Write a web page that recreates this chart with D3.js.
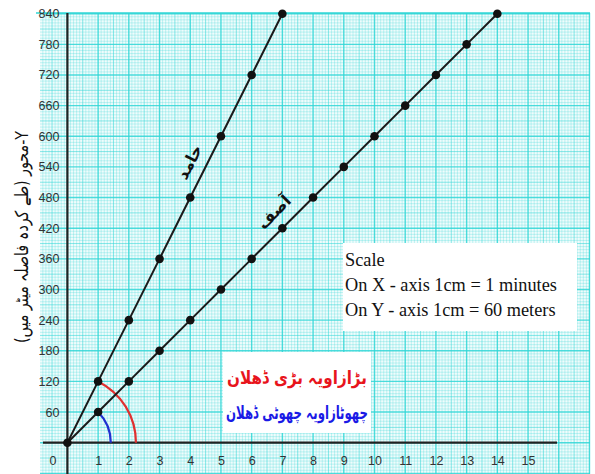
<!DOCTYPE html>
<html><head><meta charset="utf-8">
<script src="https://cdn.jsdelivr.net/npm/d3@7"></script>
<style>
html,body{margin:0;padding:0;background:#fff;}
svg{display:block;}
</style></head>
<body>
<script>
// ---- data ----
const hamidX = [0,1,2,3,4,5,6,7];
const hamidY = [0,120,240,360,480,600,720,840];
const asifX  = [0,1,2,3,4,5,6,7,8,9,10,11,12,13,14];
const asifY  = [0,60,120,180,240,300,360,420,480,540,600,660,720,780,840];
const xTicks = [0,1,2,3,4,5,6,7,8,9,10,11,12,13,14,15];
const yTicks = [60,120,180,240,300,360,420,480,540,600,660,720,780,840];
const seriesNames = ["حامد","آصف"];
const yTitle = "Y-محور (طے کردہ فاصلہ میٹر میں)";
const legendRed = "بڑازاویہ بڑی ڈھلان";
const legendBlue = "چھوٹازاویہ چھوٹی ڈھلان";
const scaleLines = ["Scale","On X - axis 1cm = 1 minutes","On Y - axis 1cm = 60 meters"];

const W=595,H=474;
const svg=d3.select("body").append("svg").attr("width",W).attr("height",H);
const x=d3.scaleLinear().domain([0,16]).range([67.4,67.4+16*30.71]);
const y=d3.scaleLinear().domain([0,840]).range([442.7,13.7]);

// graph paper
const gx0=40,gx1=590,gy0=13,gy1=474;
svg.append("rect").attr("x",gx0).attr("y",gy0).attr("width",gx1-gx0).attr("height",gy1-gy0).attr("fill","#effcfc");
const grid=svg.append("g");
const xmin=x.invert(gx0),xmax=x.invert(gx1),ymin=y.invert(gy1),ymax=y.invert(gy0);
for(let i=Math.ceil(xmin*10);i<=Math.floor(xmax*10);i++){
  const m=((i%10)+10)%10;
  const op = m===0?0.85:(m===5?0.55:0.25);
  const sw = m===0?1.4:1;
  grid.append("line").attr("x1",x(i/10)).attr("x2",x(i/10)).attr("y1",gy0).attr("y2",gy1)
    .attr("stroke","#2fd6d6").attr("stroke-opacity",op).attr("stroke-width",sw);
}
for(let j=Math.ceil(ymin/6);j<=Math.floor(ymax/6);j++){
  const m=((j%10)+10)%10;
  const op = m===0?0.85:(m===5?0.55:0.25);
  const sw = m===0?1.4:1;
  grid.append("line").attr("y1",y(j*6)).attr("y2",y(j*6)).attr("x1",gx0).attr("x2",gx1)
    .attr("stroke","#2fd6d6").attr("stroke-opacity",op).attr("stroke-width",sw);
}
svg.append("line").attr("x1",36).attr("x2",gx1).attr("y1",gy0).attr("y2",gy0).attr("stroke","#2fd6d6").attr("stroke-width",1.5);

// axes lines
svg.append("line").attr("x1",x(0)).attr("x2",x(0)).attr("y1",gy0).attr("y2",gy1).attr("stroke","#222").attr("stroke-width",2.2);
svg.append("line").attr("x1",43).attr("x2",557).attr("y1",y(0)).attr("y2",y(0)).attr("stroke","#222").attr("stroke-width",2.2);

// tick labels via d3 axes
const xa=svg.append("g").attr("transform",`translate(0,${y(0)+10})`)
  .call(d3.axisBottom(x).tickValues(xTicks).tickSize(0).tickFormat(d3.format("d")));
xa.select(".domain").remove();
xa.selectAll("text").attr("font-family","Liberation Sans, Arial, sans-serif").attr("font-size",12.5).attr("fill","#333")
  .attr("dx",d=>d===0?-15:0);
const ya=svg.append("g").attr("transform",`translate(${x(0)-5},0)`)
  .call(d3.axisLeft(y).tickValues(yTicks).tickSize(0).tickFormat(d3.format("d")));
ya.select(".domain").remove();
ya.selectAll("text").attr("font-family","Liberation Sans, Arial, sans-serif").attr("font-size",12.5).attr("fill","#333");

// y-axis title
svg.append("text").attr("transform",`translate(28,237) rotate(-90)`).attr("text-anchor","middle")
  .attr("direction","rtl").attr("font-family","DejaVu Sans, sans-serif").attr("font-size",18).attr("fill","#111")
  .attr("textLength",212).attr("lengthAdjust","spacingAndGlyphs").text(yTitle);

// arcs
const rRed=Math.hypot(x(1)-x(0),y(120)-y(0));
const aRed=Math.atan2(x(1)-x(0),y(0)-y(120));
svg.append("path").attr("transform",`translate(${x(0)},${y(0)})`)
  .attr("d",d3.arc().innerRadius(rRed).outerRadius(rRed)({startAngle:aRed,endAngle:Math.PI/2}))
  .attr("fill","none").attr("stroke","#e03030").attr("stroke-width",2.2);
const rBlue=Math.hypot(x(1)-x(0),y(60)-y(0));
const aBlue=Math.atan2(x(1)-x(0),y(0)-y(60));
svg.append("path").attr("transform",`translate(${x(0)},${y(0)})`)
  .attr("d",d3.arc().innerRadius(rBlue).outerRadius(rBlue)({startAngle:aBlue,endAngle:Math.PI/2}))
  .attr("fill","none").attr("stroke","#2030d0").attr("stroke-width",2.2);

// series
const line=d3.line().x(d=>x(d[0])).y(d=>y(d[1]));
const s1=hamidX.map((v,i)=>[v,hamidY[i]]);
const s2=asifX.map((v,i)=>[v,asifY[i]]);
[s1,s2].forEach(s=>{
  svg.append("path").attr("d",line(s)).attr("fill","none").attr("stroke","#1a1a1a").attr("stroke-width",2);
  svg.selectAll(null).data(s.slice(1)).enter().append("circle").attr("cx",d=>x(d[0])).attr("cy",d=>y(d[1])).attr("r",4.3).attr("fill","#111");
});
svg.append("circle").attr("cx",x(0)).attr("cy",y(0)).attr("r",4.3).attr("fill","#111");

// series labels
const ang1=Math.atan2(y(840)-y(0),x(7)-x(0))*180/Math.PI;
const ang2=Math.atan2(y(840)-y(0),x(14)-x(0))*180/Math.PI;
svg.append("text").attr("transform",`translate(${x(4.4)-8},${y(535)-5}) rotate(${ang1})`).attr("text-anchor","middle")
  .attr("direction","rtl").attr("font-family","DejaVu Sans, sans-serif").attr("font-size",16).attr("font-weight","bold").attr("fill","#111").text(seriesNames[0]);
svg.append("text").attr("transform",`translate(${x(7.15)-9},${y(430)-7}) rotate(${ang2})`).attr("text-anchor","middle")
  .attr("direction","rtl").attr("font-family","DejaVu Sans, sans-serif").attr("font-size",16).attr("font-weight","bold").attr("fill","#111").text(seriesNames[1]);

// urdu legend box
svg.append("rect").attr("x",223).attr("y",352).attr("width",148).attr("height",81).attr("fill","#fff");
svg.append("text").attr("x",297).attr("y",384).attr("text-anchor","middle").attr("direction","rtl")
  .attr("font-family","DejaVu Sans, sans-serif").attr("font-size",18).attr("font-weight","bold").attr("fill","#e8141c")
  .attr("textLength",140).attr("lengthAdjust","spacingAndGlyphs").text(legendRed);
svg.append("text").attr("x",297).attr("y",419).attr("text-anchor","middle").attr("direction","rtl")
  .attr("font-family","DejaVu Sans, sans-serif").attr("font-size",18).attr("font-weight","bold").attr("fill","#1a1ae6")
  .attr("textLength",142).attr("lengthAdjust","spacingAndGlyphs").text(legendBlue);

// scale box
svg.append("rect").attr("x",343).attr("y",243).attr("width",234).attr("height",88).attr("fill","#fff");
scaleLines.forEach((t,i)=>{
  svg.append("text").attr("x",345).attr("y",266+i*25).attr("font-family","Liberation Serif, Times New Roman, serif")
    .attr("font-size",18.3).attr("fill","#111").text(t);
});
</script>
</body></html>
